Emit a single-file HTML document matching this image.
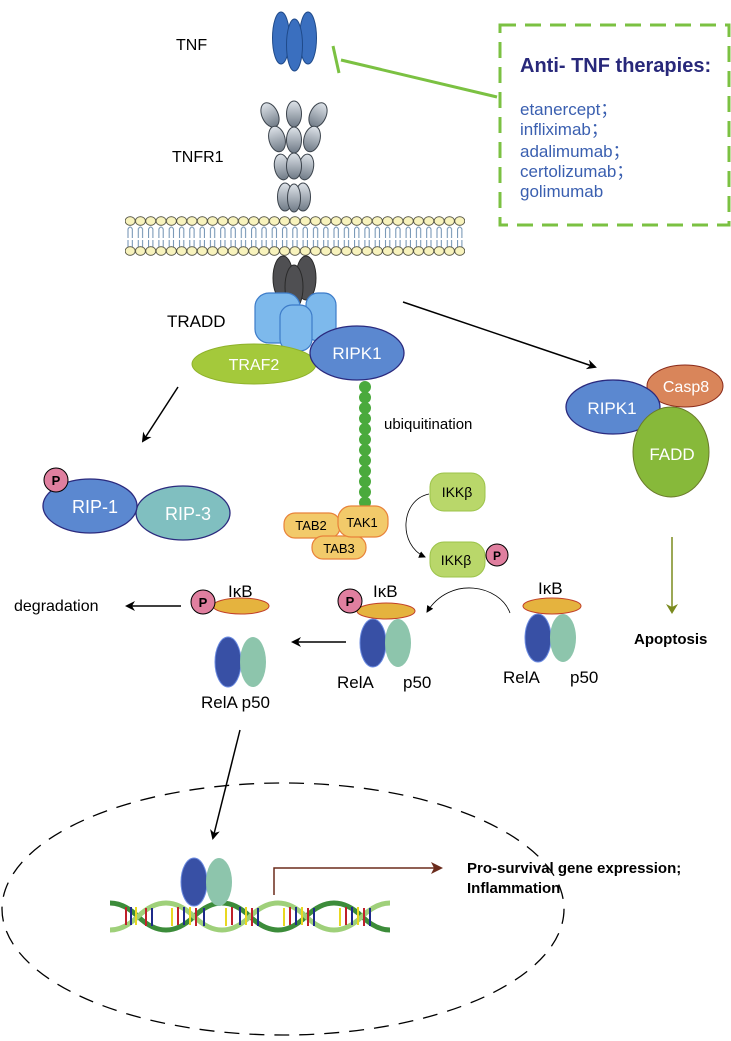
<!DOCTYPE html>
<html><head><meta charset="utf-8"><style>
html,body{margin:0;padding:0;background:#fff;}
svg{display:block;font-family:"Liberation Sans",Arial,sans-serif;}
</style></head><body>
<svg width="731" height="1041" viewBox="0 0 731 1041" xmlns="http://www.w3.org/2000/svg">
<defs>
<linearGradient id="gr" x1="0" y1="0" x2="0" y2="1"><stop offset="0" stop-color="#dfe4ea"/><stop offset="1" stop-color="#6f7a86"/></linearGradient>
<pattern id="lip" x="125" y="0" width="10.3" height="1041" patternUnits="userSpaceOnUse">
<path d="M3,238 V229 Q5.15,225 7.3,229 V238 M3,240 V247 Q5.15,251 7.3,247 V240" fill="none" stroke="#6d8fb0" stroke-width="1"/>
<ellipse cx="5.15" cy="221" rx="5" ry="4.3" fill="#f8f3bd" stroke="#4a4a3a" stroke-width="0.8"/>
<ellipse cx="5.15" cy="251" rx="5" ry="4.3" fill="#f8f3bd" stroke="#4a4a3a" stroke-width="0.8"/>
</pattern>
<marker id="ab" markerWidth="10" markerHeight="10" refX="8" refY="5" orient="auto" markerUnits="userSpaceOnUse"><path d="M0,0 L10,5 L0,10 L3,5 z" fill="#000"/></marker>
<marker id="ao" markerWidth="10" markerHeight="12" refX="8" refY="6" orient="auto" markerUnits="userSpaceOnUse"><path d="M0,0 L10,6 L0,12 L3,6 z" fill="#7a8a1e"/></marker>
<marker id="ar" markerWidth="12" markerHeight="12" refX="10" refY="6" orient="auto" markerUnits="userSpaceOnUse"><path d="M0,0 L12,6 L0,12 L3,6 z" fill="#6b2b1c"/></marker>
<marker id="as" markerWidth="7" markerHeight="7" refX="6" refY="3.5" orient="auto" markerUnits="userSpaceOnUse"><path d="M0,0 L7,3.5 L0,7 z" fill="#000"/></marker>
</defs>

<!-- TNF -->
<text x="176" y="50" font-size="16">TNF</text>
<ellipse cx="281" cy="38" rx="8.5" ry="26" fill="#3a6fbf" stroke="#1f4a8a"/>
<ellipse cx="308" cy="38" rx="8.5" ry="26" fill="#3a6fbf" stroke="#1f4a8a"/>
<ellipse cx="294.5" cy="45" rx="8" ry="26" fill="#3a6fbf" stroke="#1f4a8a"/>

<!-- inhibition -->
<line x1="341" y1="60" x2="497" y2="97" stroke="#7bc142" stroke-width="3"/>
<line x1="333" y1="46" x2="339" y2="73" stroke="#7bc142" stroke-width="3"/>
<rect x="500" y="25" width="229" height="200" fill="none" stroke="#7bc142" stroke-width="3" stroke-dasharray="16,9"/>
<text x="520" y="72" font-size="20" font-weight="bold" fill="#28287a">Anti- TNF therapies:</text>
<g font-size="17" fill="#3a5fb0">
<text x="520" y="115">etanercept；</text>
<text x="520" y="135">infliximab；</text>
<text x="520" y="157">adalimumab；</text>
<text x="520" y="177">certolizumab；</text>
<text x="520" y="197">golimumab</text>
</g>

<!-- TNFR1 -->
<text x="172" y="162" font-size="16">TNFR1</text>
<g fill="url(#gr)" stroke="#3b434c" stroke-width="1">
<ellipse cx="270" cy="115" rx="8" ry="13" transform="rotate(-25 270 115)"/>
<ellipse cx="294" cy="114" rx="7.5" ry="13"/>
<ellipse cx="318" cy="115" rx="8" ry="13" transform="rotate(25 318 115)"/>
<ellipse cx="277" cy="139" rx="8" ry="13" transform="rotate(-15 277 139)"/>
<ellipse cx="294" cy="140" rx="7.5" ry="13"/>
<ellipse cx="312" cy="139" rx="8" ry="13" transform="rotate(15 312 139)"/>
<ellipse cx="282" cy="167" rx="7.5" ry="13" transform="rotate(-10 282 167)"/>
<ellipse cx="306" cy="167" rx="7.5" ry="13" transform="rotate(10 306 167)"/>
<ellipse cx="294" cy="166" rx="7.5" ry="13"/>
<ellipse cx="285" cy="197" rx="7.5" ry="14"/>
<ellipse cx="303" cy="197" rx="7.5" ry="14"/>
<ellipse cx="294" cy="198" rx="6.5" ry="14"/>
</g>

<!-- membrane -->
<rect x="125" y="215" width="340" height="42" fill="url(#lip)"/>

<!-- dark intracellular -->
<g fill="#4f4f52" stroke="#2a2a2a">
<ellipse cx="283" cy="278" rx="10" ry="22"/>
<ellipse cx="306" cy="278" rx="10" ry="22"/>
<ellipse cx="294" cy="287" rx="9" ry="22"/>
</g>

<!-- TRADD -->
<text x="167" y="327" font-size="17">TRADD</text>
<g fill="#7db9ec" stroke="#3d7cc9" stroke-width="1.2">
<rect x="255" y="293" width="45" height="50" rx="14"/>
<rect x="306" y="293" width="30" height="48" rx="12"/>
<rect x="280" y="305" width="32" height="46" rx="12"/>
</g>
<ellipse cx="254" cy="364" rx="62" ry="20" fill="#a4c93b" stroke="#8fb22a"/>
<text x="254" y="370" font-size="16" fill="#fff" text-anchor="middle">TRAF2</text>

<!-- ubiquitin chain -->
<g fill="#4aaa3c">
<circle cx="365" cy="387" r="6"/><circle cx="365" cy="397.5" r="6"/><circle cx="365" cy="408" r="6"/><circle cx="365" cy="418.5" r="6"/><circle cx="365" cy="429" r="6"/><circle cx="365" cy="439.5" r="6"/><circle cx="365" cy="450" r="6"/><circle cx="365" cy="460.5" r="6"/><circle cx="365" cy="471" r="6"/><circle cx="365" cy="481.5" r="6"/><circle cx="365" cy="492" r="6"/><circle cx="365" cy="502.5" r="6"/>
</g>
<ellipse cx="357" cy="353" rx="47" ry="27" fill="#5b88d0" stroke="#2b2a7e" stroke-width="1.3"/>
<text x="357" y="359" font-size="17" fill="#fff" text-anchor="middle">RIPK1</text>
<text x="384" y="429" font-size="15">ubiquitination</text>

<!-- arrows -->
<line x1="178" y1="387" x2="143" y2="441" stroke="#000" stroke-width="1.5" marker-end="url(#ab)"/>
<line x1="403" y1="302" x2="595" y2="367" stroke="#000" stroke-width="1.5" marker-end="url(#ab)"/>

<!-- right cluster -->
<ellipse cx="685" cy="386" rx="38" ry="21" fill="#d9855a" stroke="#8a2a1a"/>
<text x="686" y="392" font-size="16" fill="#fff" text-anchor="middle">Casp8</text>
<ellipse cx="613" cy="407" rx="47" ry="27" fill="#5b88d0" stroke="#2b2a7e" stroke-width="1.3"/>
<text x="612" y="414" font-size="17" fill="#fff" text-anchor="middle">RIPK1</text>
<ellipse cx="671" cy="452" rx="38" ry="45" fill="#87b93a" stroke="#6a7a2a"/>
<text x="672" y="460" font-size="17" fill="#fff" text-anchor="middle">FADD</text>
<line x1="672" y1="537" x2="672" y2="612" stroke="#7a8a1e" stroke-width="1.5" marker-end="url(#ao)"/>
<text x="634" y="644" font-size="15" font-weight="bold">Apoptosis</text>

<!-- RIP-1 / RIP-3 -->
<ellipse cx="183" cy="513" rx="47" ry="27" fill="#80bfc0" stroke="#2b2a7e" stroke-width="1.3"/>
<ellipse cx="90" cy="506" rx="47" ry="27" fill="#5b88d0" stroke="#2b2a7e" stroke-width="1.3"/>
<text x="95" y="513" font-size="18" fill="#fff" text-anchor="middle">RIP-1</text>
<text x="188" y="520" font-size="18" fill="#fff" text-anchor="middle">RIP-3</text>
<circle cx="56" cy="480" r="12" fill="#e07f9f" stroke="#000"/>
<text x="56" y="485" font-size="13" font-weight="bold" text-anchor="middle">P</text>

<!-- TAB/TAK -->
<g fill="#f2ca6a" stroke="#e8823a" stroke-width="1.2">
<rect x="284" y="513" width="56" height="25" rx="11"/>
<rect x="312" y="536" width="54" height="23" rx="11"/>
<rect x="338" y="506" width="50" height="31" rx="13"/>
</g>
<g font-size="13" text-anchor="middle">
<text x="311" y="530">TAB2</text><text x="362" y="527">TAK1</text><text x="339" y="553">TAB3</text>
</g>

<!-- IKK -->
<rect x="430" y="473" width="55" height="38" rx="14" fill="#b9d76a" stroke="#9cc34a"/>
<text x="457" y="497" font-size="14" text-anchor="middle">IKKβ</text>
<rect x="430" y="542" width="55" height="35" rx="14" fill="#b9d76a" stroke="#9cc34a"/>
<text x="456" y="565" font-size="14" text-anchor="middle">IKKβ</text>
<circle cx="497" cy="555" r="11" fill="#e07f9f" stroke="#000"/>
<text x="497" y="560" font-size="12" font-weight="bold" text-anchor="middle">P</text>
<path d="M429,494 C400,500 398,545 425,557" fill="none" stroke="#000" stroke-width="0.8" marker-end="url(#as)"/>

<!-- degradation group -->
<text x="14" y="611" font-size="16">degradation</text>
<line x1="181" y1="606" x2="127" y2="606" stroke="#000" stroke-width="1.5" marker-end="url(#ab)"/>
<ellipse cx="241" cy="606" rx="28" ry="8" fill="#e5b33e" stroke="#c2402a"/>
<circle cx="203" cy="602" r="12" fill="#e07f9f" stroke="#000"/>
<text x="203" y="607" font-size="13" font-weight="bold" text-anchor="middle">P</text>
<text x="228" y="597" font-size="17">IκB</text>
<ellipse cx="228" cy="662" rx="13" ry="25" fill="#3850a5" stroke="#6a8ae0"/>
<ellipse cx="253" cy="662" rx="13" ry="25" fill="#8dc5ac"/>
<text x="201" y="708" font-size="17">RelA  p50</text>

<line x1="346" y1="642" x2="293" y2="642" stroke="#000" stroke-width="1.5" marker-end="url(#ab)"/>

<!-- middle -->
<ellipse cx="373" cy="643" rx="13" ry="24" fill="#3850a5" stroke="#6a8ae0"/>
<ellipse cx="398" cy="643" rx="13" ry="24" fill="#8dc5ac"/>
<ellipse cx="386" cy="611" rx="29" ry="8" fill="#e5b33e" stroke="#c2402a"/>
<circle cx="350" cy="601" r="12" fill="#e07f9f" stroke="#000"/>
<text x="350" y="606" font-size="13" font-weight="bold" text-anchor="middle">P</text>
<text x="373" y="597" font-size="17">IκB</text>
<text x="337" y="688" font-size="17">RelA</text>
<text x="403" y="688" font-size="17">p50</text>

<path d="M510,613 C500,585 450,575 427,612" fill="none" stroke="#000" stroke-width="0.8" marker-end="url(#as)"/>

<!-- right -->
<ellipse cx="538" cy="638" rx="13" ry="24" fill="#3850a5" stroke="#6a8ae0"/>
<ellipse cx="563" cy="638" rx="13" ry="24" fill="#8dc5ac"/>
<ellipse cx="552" cy="606" rx="29" ry="8" fill="#e5b33e" stroke="#c2402a"/>
<text x="538" y="594" font-size="17">IκB</text>
<text x="503" y="683" font-size="17">RelA</text>
<text x="570" y="683" font-size="17">p50</text>

<!-- nucleus -->
<line x1="240" y1="730" x2="213" y2="838" stroke="#000" stroke-width="1.5" marker-end="url(#ab)"/>
<ellipse cx="283" cy="909" rx="281" ry="126" fill="none" stroke="#000" stroke-width="1.3" stroke-dasharray="15,10"/>

<!-- DNA -->
<g stroke-width="5" fill="none">
<path d="M110,903 q14,0 28,13.5 t28,13.5 t28,-13.5 t28,-13.5 t28,13.5 t28,13.5 t28,-13.5 t28,-13.5 t28,13.5 t28,13.5" stroke="#3c8c3a"/>
<path d="M110,930 q14,0 28,-13.5 t28,-13.5 t28,13.5 t28,13.5 t28,-13.5 t28,-13.5 t28,13.5 t28,13.5 t28,-13.5 t28,-13.5" stroke="#9fd07a"/>
</g>
<g stroke-width="2">
<path d="M126,907 v18 M146,908 v18 M178,907 v18 M196,908 v18 M232,907 v18 M252,908 v18 M290,907 v18 M308,908 v18 M346,907 v18 M364,908 v18" stroke="#c0202a"/>
<path d="M131,907 v18 M152,908 v18 M184,907 v18 M204,908 v18 M240,907 v18 M258,908 v18 M296,907 v18 M314,908 v18 M352,907 v18 M370,908 v18" stroke="#1e2a8a"/>
<path d="M136,907 v18 M172,908 v18 M190,907 v18 M226,908 v18 M246,907 v18 M284,908 v18 M302,907 v18 M340,908 v18 M358,907 v18" stroke="#e8d820"/>
</g>
<ellipse cx="194" cy="882" rx="13" ry="24" fill="#3850a5" stroke="#6a8ae0"/>
<ellipse cx="219" cy="882" rx="13" ry="24" fill="#8dc5ac"/>
<path d="M274,895 V868 H441" fill="none" stroke="#6b2b1c" stroke-width="1.5" marker-end="url(#ar)"/>
<text x="467" y="873" font-size="15" font-weight="bold">Pro-survival gene expression;</text>
<text x="467" y="893" font-size="15" font-weight="bold">Inflammation</text>
</svg>
</body></html>
